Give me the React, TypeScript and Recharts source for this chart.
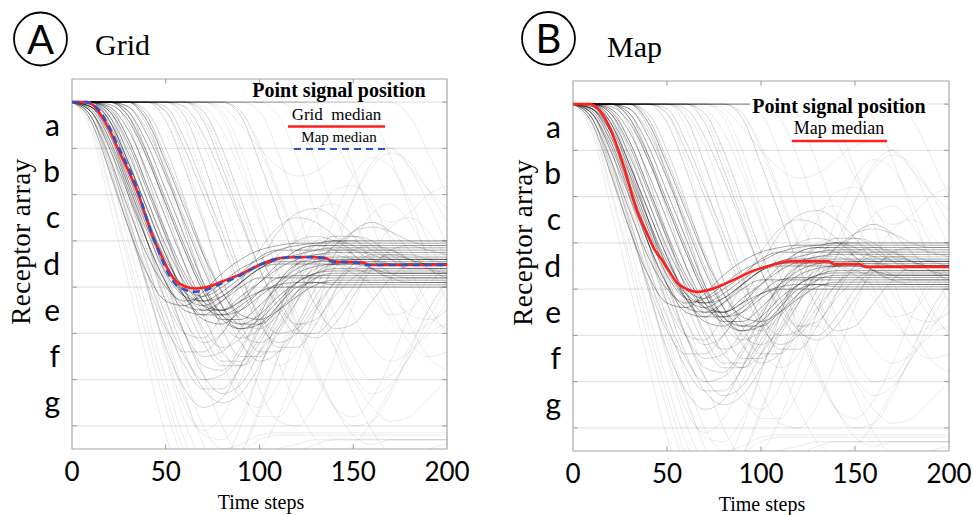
import { LineChart, Line, XAxis, YAxis, ReferenceLine, ReferenceArea } from 'recharts';

// shared time grid for the grey single-run traces
const timeSteps = [0, 10, 20, 30, 40, 50, 60, 70, 80, 90, 100, 110, 120, 130, 140, 150, 160, 170, 180, 190, 200];
const xTicks = [0, 50, 100, 150, 200];
const innerXTicks = [50, 100, 150];
const receptorLabels = ['a', 'b', 'c', 'd', 'e', 'f', 'g'];
const letterTicks = [0.5, 1.5, 2.5, 3.5, 4.5, 5.5, 6.5];
const boundaryLevels = [0, 1, 2, 3, 4, 5, 6, 7];

// early runs that settle between receptor c/d and d/e
const darkTraces: number[][] = [
  [0, 0.3, 1.2, 2.3, 3.3, 4.0, 4.3, 4.2, 3.9, 3.6, 3.4, 3.2, 3.1, 3.05, 3.0, 3.0, 3.0, 3.0, 3.0, 3.0, 3.0],
  [0, 0.1, 0.7, 1.7, 2.7, 3.6, 4.2, 4.4, 4.2, 3.9, 3.6, 3.4, 3.3, 3.2, 3.15, 3.15, 3.15, 3.15, 3.15, 3.15, 3.15],
  [0, 0.05, 0.4, 1.3, 2.3, 3.3, 4.1, 4.5, 4.5, 4.2, 3.9, 3.6, 3.4, 3.3, 3.25, 3.25, 3.25, 3.25, 3.25, 3.25, 3.25],
  [0, 0, 0.2, 0.9, 1.9, 2.9, 3.8, 4.4, 4.6, 4.5, 4.2, 3.9, 3.6, 3.45, 3.4, 3.4, 3.4, 3.4, 3.4, 3.4, 3.4],
  [0, 0, 0.1, 0.6, 1.5, 2.5, 3.5, 4.3, 4.7, 4.7, 4.4, 4.0, 3.7, 3.55, 3.5, 3.5, 3.5, 3.5, 3.5, 3.5, 3.5],
  [0, 0, 0, 0.3, 1.1, 2.1, 3.1, 4.0, 4.6, 4.8, 4.6, 4.2, 3.9, 3.7, 3.6, 3.6, 3.6, 3.6, 3.6, 3.6, 3.6],
  [0, 0, 0, 0.1, 0.7, 1.6, 2.6, 3.6, 4.4, 4.8, 4.8, 4.5, 4.1, 3.8, 3.7, 3.7, 3.7, 3.7, 3.7, 3.7, 3.7],
  [0, 0.2, 0.9, 1.9, 3.0, 3.9, 4.4, 4.5, 4.3, 4.0, 3.8, 3.8, 3.8, 3.8, 3.8, 3.8, 3.8, 3.8, 3.8, 3.8, 3.8],
  [0, 0.1, 0.5, 1.4, 2.5, 3.5, 4.2, 4.6, 4.6, 4.4, 4.1, 3.95, 3.9, 3.9, 3.9, 3.9, 3.9, 3.9, 3.9, 3.9, 3.9],
  [0, 0, 0.3, 1.1, 2.1, 3.1, 3.9, 4.4, 4.5, 4.3, 4.1, 4.0, 4.0, 4.0, 4.0, 4.0, 4.0, 4.0, 4.0, 4.0, 4.0],
  [0, 0.15, 0.8, 1.8, 2.8, 3.7, 4.2, 4.3, 4.1, 3.8, 3.55, 3.45, 3.45, 3.45, 3.45, 3.45, 3.45, 3.45, 3.45, 3.45, 3.45],
  [0, 0, 0.15, 0.8, 1.8, 2.8, 3.7, 4.3, 4.5, 4.3, 3.9, 3.5, 3.2, 3.1, 3.1, 3.1, 3.1, 3.1, 3.1, 3.1, 3.1],
  [0, 0.05, 0.6, 1.6, 2.6, 3.5, 4.1, 4.3, 4.2, 3.9, 3.6, 3.4, 3.35, 3.35, 3.35, 3.35, 3.35, 3.35, 3.35, 3.35, 3.35],
  [0, 0, 0.05, 0.4, 1.2, 2.2, 3.2, 4.1, 4.7, 4.9, 4.7, 4.3, 3.9, 3.7, 3.65, 3.65, 3.65, 3.65, 3.65, 3.65, 3.65],
  [0, 0, 0, 0, 0.4, 1.3, 2.3, 3.3, 4.1, 4.6, 4.7, 4.5, 4.2, 3.95, 3.85, 3.85, 3.85, 3.85, 3.85, 3.85, 3.85],
  [0, 0.4, 1.5, 2.7, 3.7, 4.3, 4.4, 4.1, 3.7, 3.4, 3.2, 3.1, 3.05, 3.05, 3.05, 3.05, 3.05, 3.05, 3.05, 3.05, 3.05],
  [0, 0.2, 1.0, 2.0, 3.0, 3.9, 4.5, 4.6, 4.3, 3.9, 3.6, 3.5, 3.5, 3.5, 3.5, 3.5, 3.5, 3.5, 3.5, 3.5, 3.5],
  [0, 0, 0.4, 1.3, 2.3, 3.3, 4.2, 4.7, 4.8, 4.5, 4.1, 3.8, 3.75, 3.75, 3.75, 3.75, 3.75, 3.75, 3.75, 3.75, 3.75],
  [0, 0, 0, 0.2, 0.9, 1.9, 2.9, 3.9, 4.6, 4.9, 4.8, 4.4, 4.0, 3.9, 3.95, 3.95, 3.95, 3.95, 3.95, 3.95, 3.95],
  [0, 0.1, 0.6, 1.5, 2.5, 3.4, 4.0, 4.2, 4.0, 3.7, 3.35, 3.2, 3.2, 3.2, 3.2, 3.2, 3.2, 3.2, 3.2, 3.2, 3.2],
];

// runs that overshoot deeper and swing back
const midTraces: number[][] = [
  [0, 0.3, 1.4, 2.7, 3.9, 4.9, 5.4, 5.4, 5.0, 4.4, 3.8, 3.3, 3.0, 2.9, 3.0, 3.2, 3.4, 3.5, 3.5, 3.5, 3.5],
  [0, 0, 0.4, 1.5, 2.7, 3.9, 5.0, 5.7, 5.8, 5.3, 4.6, 3.9, 3.4, 3.1, 3.1, 3.3, 3.6, 3.8, 3.8, 3.8, 3.8],
  [0, 0, 0, 0.5, 1.6, 2.8, 4.0, 5.0, 5.6, 5.6, 5.1, 4.4, 3.7, 3.2, 2.9, 2.9, 3.1, 3.4, 3.6, 3.6, 3.6],
  [0, 0, 0, 0, 0.5, 1.5, 2.7, 3.9, 4.9, 5.5, 5.5, 5.0, 4.3, 3.6, 3.1, 2.9, 3.0, 3.3, 3.5, 3.5, 3.5],
  [0, 0, 0, 0, 0, 0.4, 1.4, 2.6, 3.8, 4.8, 5.4, 5.4, 4.9, 4.2, 3.6, 3.2, 3.1, 3.2, 3.4, 3.5, 3.5],
  [0, 0.2, 1.0, 2.2, 3.5, 4.6, 5.5, 6.0, 5.9, 5.4, 4.6, 3.9, 3.5, 3.4, 3.5, 3.7, 3.9, 3.9, 3.9, 3.9, 3.9],
  [0, 0, 0.2, 1.2, 2.5, 3.8, 5.0, 5.9, 6.3, 6.1, 5.4, 4.6, 3.9, 3.4, 3.2, 3.2, 3.3, 3.3, 3.3, 3.3, 3.3],
  [0, 0, 0, 0.2, 1.1, 2.3, 3.5, 4.6, 5.4, 5.7, 5.4, 4.8, 4.1, 3.5, 3.1, 2.8, 2.7, 2.8, 3.0, 3.1, 3.1],
  [0, 0, 0, 0, 0, 0, 0.3, 1.3, 2.5, 3.7, 4.7, 5.3, 5.3, 4.8, 4.1, 3.5, 3.2, 3.2, 3.4, 3.6, 3.7],
  [0, 0.1, 0.8, 2.0, 3.2, 4.3, 5.0, 5.1, 4.6, 3.9, 3.2, 2.7, 2.5, 2.6, 2.9, 3.3, 3.6, 3.8, 3.9, 3.9, 3.9],
  [0, 0, 0.3, 1.3, 2.5, 3.7, 4.7, 5.2, 5.0, 4.3, 3.5, 2.8, 2.4, 2.3, 2.5, 2.9, 3.4, 3.7, 3.8, 3.8, 3.8],
  [0, 0, 0, 0, 0.2, 1.0, 2.1, 3.3, 4.4, 5.2, 5.6, 5.4, 4.8, 4.0, 3.3, 2.8, 2.6, 2.8, 3.2, 3.6, 3.8],
  [0, 0, 0, 0, 0, 0, 0, 0.2, 1.0, 2.1, 3.2, 4.2, 4.9, 5.1, 4.8, 4.2, 3.6, 3.2, 3.1, 3.2, 3.3],
  [0, 0.1, 0.6, 1.7, 3.0, 4.3, 5.4, 6.2, 6.5, 6.3, 5.7, 4.9, 4.2, 3.7, 3.5, 3.5, 3.6, 3.7, 3.7, 3.7, 3.7],
  [0, 0, 0, 0, 0, 0, 0, 0, 0, 0.3, 1.3, 2.4, 3.5, 4.4, 4.9, 4.8, 4.3, 3.8, 3.5, 3.4, 3.4],
  [0, 0.2, 1.2, 2.6, 4.0, 5.3, 6.2, 6.6, 6.4, 5.7, 4.8, 4.0, 3.5, 3.3, 3.3, 3.4, 3.4, 3.4, 3.4, 3.4, 3.4],
  [0, 0, 0, 0, 0, 0.2, 1.0, 2.0, 3.0, 4.0, 4.8, 5.2, 5.0, 4.5, 3.9, 3.5, 3.3, 3.3, 3.4, 3.5, 3.5],
  [0, 0, 0, 0.1, 0.6, 1.5, 2.5, 3.5, 4.4, 5.0, 5.2, 4.9, 4.3, 3.8, 3.5, 3.4, 3.4, 3.5, 3.6, 3.6, 3.6],
  [0, 0.3, 1.3, 2.5, 3.7, 4.8, 5.7, 6.2, 6.2, 5.7, 4.9, 4.1, 3.5, 3.1, 3.0, 3.1, 3.3, 3.4, 3.4, 3.4, 3.4],
  [0, 0, 0, 0, 0, 0, 0, 0.4, 1.4, 2.5, 3.6, 4.5, 5.0, 5.0, 4.6, 4.0, 3.5, 3.3, 3.3, 3.4, 3.5],
  [0, 0.1, 0.7, 1.8, 3.0, 4.1, 5.0, 5.5, 5.4, 4.9, 4.2, 3.6, 3.2, 3.1, 3.2, 3.4, 3.6, 3.7, 3.7, 3.7, 3.7],
  [0, 0, 0.2, 1.0, 2.1, 3.2, 4.3, 5.2, 5.7, 5.7, 5.2, 4.5, 3.8, 3.3, 3.0, 3.0, 3.2, 3.4, 3.5, 3.5, 3.5],
  [0, 0, 0, 0, 0.3, 1.2, 2.2, 3.2, 4.1, 4.7, 4.9, 4.6, 4.1, 3.7, 3.5, 3.45, 3.45, 3.5, 3.5, 3.5, 3.5],
  [0, 0, 0, 0.3, 1.2, 2.2, 3.2, 4.1, 4.8, 5.1, 4.9, 4.4, 3.9, 3.6, 3.5, 3.6, 3.7, 3.7, 3.7, 3.7, 3.7],
  [0, 0, 0, 0, 0, 0.1, 0.8, 1.8, 2.8, 3.8, 4.6, 5.0, 4.9, 4.4, 3.9, 3.6, 3.5, 3.5, 3.5, 3.5, 3.5],
  [0, 0, 0, 0, 0, 0, 0.1, 0.7, 1.6, 2.6, 3.6, 4.4, 4.8, 4.7, 4.2, 3.8, 3.6, 3.6, 3.6, 3.6, 3.6],
  [0, 0, 0.1, 0.8, 1.8, 2.9, 4.0, 4.9, 5.3, 5.1, 4.5, 3.9, 3.5, 3.4, 3.4, 3.4, 3.4, 3.4, 3.4, 3.4, 3.4],
];

// scattered runs: deep dives, late starts, bouncing arcs
const faintTraces: number[][] = [
  [0, 0.3, 1.5, 3.0, 4.5, 6.0, 7.3, 8.0, 7.8, 7.0, 5.8, 4.6, 3.6, 3.0, 2.9, 3.3, 4.0, 4.7, 5.0, 4.8, 4.5],
  [0, 0, 0.5, 1.9, 3.4, 4.9, 6.3, 7.4, 7.9, 7.6, 6.7, 5.5, 4.3, 3.4, 3.0, 3.1, 3.7, 4.5, 5.2, 5.5, 5.4],
  [0, 0, 0, 0.3, 1.6, 3.0, 4.5, 5.9, 7.0, 7.6, 7.5, 6.8, 5.7, 4.5, 3.5, 2.8, 2.6, 2.9, 3.6, 4.4, 5.0],
  [0, 0, 0, 0, 0, 0.2, 1.2, 2.5, 3.8, 5.1, 6.2, 6.9, 7.0, 6.5, 5.5, 4.4, 3.4, 2.7, 2.5, 2.8, 3.4],
  [0, 0, 0, 0, 0, 0, 0, 0, 0.3, 1.3, 2.5, 3.7, 4.9, 5.9, 6.6, 6.8, 6.4, 5.6, 4.6, 3.8, 3.4],
  [0, 0, 0, 0, 0, 0, 0, 0, 0, 0, 0.2, 1.1, 2.3, 3.5, 4.6, 5.5, 6.0, 5.9, 5.3, 4.5, 3.8],
  [0, 0.5, 1.9, 3.5, 5.1, 6.6, 7.8, 8.3, 8.2, 7.6, 6.6, 5.5, 4.8, 4.8, 5.3, 6.0, 6.6, 6.9, 6.8, 6.4, 6.0],
  [0, 0, 0.6, 2.0, 3.6, 5.1, 6.4, 7.2, 7.3, 6.8, 5.8, 4.6, 3.4, 2.5, 1.9, 1.8, 2.2, 3.0, 3.9, 4.6, 4.9],
  [0, 0, 0, 0, 0.4, 1.6, 3.0, 4.4, 5.6, 6.4, 6.6, 6.1, 5.0, 3.7, 2.5, 1.6, 1.2, 1.4, 2.1, 3.0, 3.8],
  [0, 0, 0, 0, 0, 0, 0.5, 1.7, 3.0, 4.3, 5.3, 5.7, 5.4, 4.5, 3.3, 2.1, 1.3, 1.0, 1.4, 2.2, 3.1],
  [0, 0.2, 1.1, 2.5, 4.0, 5.5, 6.9, 7.8, 8.2, 8.1, 7.8, 7.5, 7.4, 7.3, 7.3, 7.3, 7.3, 7.3, 7.3, 7.3, 7.3],
  [0, 0, 0.3, 1.5, 3.0, 4.5, 5.9, 7.0, 7.5, 7.4, 7.2, 7.15, 7.15, 7.15, 7.15, 7.15, 7.15, 7.15, 7.15, 7.15, 7.15],
  [0, 0, 0, 0, 0, 0, 0, 0, 0, 0, 0, 0.3, 1.2, 2.4, 3.6, 4.6, 5.3, 5.6, 5.4, 4.9, 4.3],
  [0, 0, 0, 0, 0, 0, 0, 0, 0, 0, 0, 0, 0, 0, 0.4, 1.4, 2.6, 3.8, 4.8, 5.5, 5.8],
  [0, 0, 0, 0, 0, 0, 0, 0, 0.1, 0.5, 1.0, 1.4, 1.6, 1.5, 1.2, 0.9, 0.8, 1.0, 1.4, 1.9, 2.3],
  [0, 0, 0, 0, 0, 0, 0, 0.3, 1.2, 2.3, 3.3, 4.0, 4.2, 3.8, 3.0, 2.1, 1.4, 1.1, 1.3, 1.9, 2.6],
  [0, 0, 0, 0, 0, 0, 0, 0, 0, 0.2, 1.0, 2.0, 3.1, 4.2, 5.3, 6.3, 7.1, 7.6, 7.7, 7.5, 7.4],
  [0, 0.1, 0.9, 2.4, 3.9, 5.4, 6.6, 7.1, 6.8, 6.0, 4.9, 3.8, 2.9, 2.3, 2.2, 2.6, 3.3, 4.1, 4.6, 4.7, 4.5],
  [0, 0.6, 2.2, 3.9, 5.6, 7.2, 8.3, 8.6, 8.2, 7.6, 7.3, 7.2, 7.2, 7.2, 7.2, 7.2, 7.2, 7.2, 7.2, 7.2, 7.2],
  [0, 0, 0, 0, 0, 0, 0.2, 0.9, 2.0, 3.2, 4.4, 5.6, 6.6, 7.3, 7.6, 7.4, 6.9, 6.2, 5.5, 5.0, 4.8],
  [0, 0, 0, 0, 0, 0, 0, 0, 0, 0, 0, 0, 0, 0, 0, 0, 0, 0, 0.3, 1.1, 2.0],
  [0, 0, 0, 0, 0, 0, 0, 0, 0, 0, 0, 0, 0.3, 1.3, 2.4, 3.4, 4.2, 4.6, 4.5, 4.0, 3.4],
  [0, 0, 0, 0, 0, 0, 0, 0, 0.2, 1.0, 2.2, 3.4, 4.6, 5.7, 6.6, 7.2, 7.4, 7.3, 7.3, 7.3, 7.3],
  [0, 0.4, 1.8, 3.3, 4.8, 6.3, 7.6, 8.5, 8.8, 8.7, 8.4, 8.0, 7.6, 7.4, 7.3, 7.3, 7.3, 7.3, 7.3, 7.3, 7.3],
  [0, 0, 0, 0, 0.3, 1.4, 2.7, 4.0, 5.2, 6.2, 6.8, 6.8, 6.2, 5.2, 4.1, 3.1, 2.4, 2.2, 2.6, 3.3, 4.0],
  [0, 0, 0, 0, 0, 0, 0, 0, 0, 0.2, 0.9, 1.9, 3.0, 4.1, 5.1, 5.9, 6.3, 6.1, 5.5, 4.7, 4.0],
  [0, 0, 0, 0, 0, 0, 0, 0, 0, 0, 0, 0, 0, 0.2, 0.8, 1.6, 2.3, 2.6, 2.4, 2.0, 1.8],
  [0, 0, 0, 0, 0, 0, 0, 0.1, 0.6, 1.5, 2.6, 3.7, 4.8, 5.8, 6.6, 7.0, 6.9, 6.3, 5.4, 4.5, 3.9],
  [0, 0, 0, 0, 0, 0, 0, 0, 0, 0, 0, 0, 0, 0, 0, 0, 0.3, 1.2, 2.3, 3.4, 4.3],
];

// medians (time step, receptor position)
const gridMedianSteps = [0, 8, 11, 15, 20, 25, 31, 35, 39, 43, 47, 51, 55, 60, 66, 72, 80, 90, 100, 108, 114, 125, 135, 139, 155, 159, 200];
const gridMedianValues = [0, 0, 0.05, 0.25, 0.6, 1.05, 1.57, 1.95, 2.43, 2.9, 3.25, 3.6, 3.85, 3.98, 4.03, 4.0, 3.88, 3.72, 3.52, 3.4, 3.36, 3.35, 3.37, 3.44, 3.47, 3.52, 3.52];

const mapMedianASteps = [0, 8, 11, 15, 20, 25, 31, 35, 39, 43, 47, 51, 55, 60, 66, 72, 80, 90, 100, 108, 114, 125, 135, 139, 152, 156, 200];
const mapMedianAValues = [0, 0, 0.04, 0.2, 0.55, 1.0, 1.5, 1.9, 2.4, 2.9, 3.3, 3.68, 3.93, 4.05, 4.1, 4.05, 3.92, 3.74, 3.52, 3.4, 3.36, 3.35, 3.37, 3.45, 3.47, 3.52, 3.52];

const mapMedianBSteps = [0, 9, 14, 20, 27, 34, 40, 43, 47, 51, 55, 59, 66, 72, 80, 88, 96, 104, 112, 116, 136, 139, 152, 156, 200];
const mapMedianBValues = [0, 0, 0.13, 0.55, 1.35, 2.3, 2.85, 3.12, 3.35, 3.6, 3.85, 3.97, 4.06, 4.02, 3.9, 3.75, 3.6, 3.5, 3.42, 3.4, 3.4, 3.46, 3.46, 3.52, 3.52];

type Pt = { t: number; v: number };
const toPoints = (steps: number[], values: number[]): Pt[] => steps.map((t, i) => ({ t, v: values[i] }));

const traceGroups = [
  { traces: faintTraces, opacity: 0.08 },
  { traces: midTraces, opacity: 0.17 },
  { traces: darkTraces, opacity: 0.34 },
];

type Median = { name: string; points: Pt[]; color: string; dash?: string };

const tickFont = { fontFamily: 'Lato, sans-serif', fontSize: 26, fill: '#000' };
const letterFont = { fontFamily: 'Lato, sans-serif', fontSize: 30, fill: '#000' };

function Panel({ width, margin, medians }: { width: number; margin: any; medians: Median[] }) {
  return (
    <LineChart width={width} height={515} margin={margin}>
      <XAxis
        type="number"
        dataKey="t"
        domain={[0, 200]}
        ticks={xTicks}
        interval={0}
        allowDataOverflow
        axisLine={false}
        tickLine={false}
        tickSize={0}
        tickMargin={14}
        height={40}
        tick={tickFont}
      />
      <YAxis
        type="number"
        dataKey="v"
        domain={[-0.5, 7.5]}
        reversed
        allowDataOverflow
        ticks={letterTicks}
        interval={0}
        tickFormatter={(v: number) => receptorLabels[Math.round(v - 0.5)]}
        axisLine={false}
        tickLine={false}
        tickSize={0}
        tickMargin={12}
        width={60}
        tick={letterFont}
      />
      {boundaryLevels.map(l => (
        <ReferenceLine key={'g' + l} y={l} stroke="#e4e4e4" strokeWidth={1.2} />
      ))}
      {boundaryLevels.slice(1).map(l => (
        <ReferenceLine key={'l' + l} segment={[{ x: 0, y: l }, { x: 2.5, y: l }]} stroke="#999" />
      ))}
      {boundaryLevels.map(l => (
        <ReferenceLine key={'r' + l} segment={[{ x: 197.5, y: l }, { x: 200, y: l }]} stroke="#999" />
      ))}
      {innerXTicks.map(x => (
        <ReferenceLine key={'t' + x} segment={[{ x, y: -0.5 }, { x, y: -0.4 }]} stroke="#999" />
      ))}
      {innerXTicks.map(x => (
        <ReferenceLine key={'b' + x} segment={[{ x, y: 7.5 }, { x, y: 7.4 }]} stroke="#999" />
      ))}
      <ReferenceArea x1={0} x2={200} y1={-0.5} y2={7.5} fill="none" stroke="#a6a6a6" strokeWidth={1.2} />
      {traceGroups.map((g, gi) =>
        g.traces.map((vals, i) => (
          <Line
            key={`tr-${gi}-${i}`}
            data={toPoints(timeSteps, vals)}
            dataKey="v"
            type="monotone"
            stroke="#000"
            strokeOpacity={g.opacity}
            strokeWidth={1}
            dot={false}
            activeDot={false}
            isAnimationActive={false}
          />
        ))
      )}
      {medians.map(m => (
        <Line
          key={m.name}
          data={m.points}
          dataKey="v"
          name={m.name}
          type="monotone"
          stroke={m.color}
          strokeWidth={2.6}
          strokeDasharray={m.dash}
          dot={false}
          activeDot={false}
          isAnimationActive={false}
        />
      ))}
    </LineChart>
  );
}

const serif = '"Liberation Serif", "Times New Roman", serif';
const RED = '#ff1f1f';
const BLUE = '#3050c8';

export default function App() {
  const gridMedian = toPoints(gridMedianSteps, gridMedianValues);
  const mapMedianA = toPoints(mapMedianASteps, mapMedianAValues);
  const mapMedianB = toPoints(mapMedianBSteps, mapMedianBValues);

  return (
    <div style={{ position: 'absolute', left: 0, top: 0, width: 973, height: 515, background: '#fff', overflow: 'hidden' }}>
      <div style={{ position: 'absolute', left: 0, top: 0 }}>
        <Panel
          width={480}
          margin={{ top: 79, right: 33, bottom: 26, left: 12 }}
          medians={[
            { name: 'Grid median', points: gridMedian, color: RED },
            { name: 'Map median', points: mapMedianA, color: BLUE, dash: '7 5' },
          ]}
        />
      </div>
      <div style={{ position: 'absolute', left: 490, top: 0 }}>
        <Panel
          width={483}
          margin={{ top: 81, right: 24, bottom: 24, left: 23 }}
          medians={[{ name: 'Map median', points: mapMedianB, color: RED }]}
        />
      </div>
      <svg width={973} height={515} style={{ position: 'absolute', left: 0, top: 0, pointerEvents: 'none' }}>
        {/* panel A */}
        <circle cx={40.5} cy={39} r={26.5} fill="none" stroke="#000" strokeWidth={1.8} />
        <text x={40.5} y={53.5} textAnchor="middle" fontFamily="Lato, sans-serif" fontSize={40}>A</text>
        <text x={95} y={55} fontFamily={serif} fontSize={30}>Grid</text>
        <text x={339} y={96.5} textAnchor="middle" fontFamily={serif} fontWeight="bold" fontSize={20}>Point signal position</text>
        <text x={336.5} y={120} textAnchor="middle" fontFamily={serif} fontSize={17} style={{ whiteSpace: 'pre' }}>Grid  median</text>
        <line x1={288} x2={385} y1={126.5} y2={126.5} stroke={RED} strokeWidth={2.5} />
        <text x={339} y={141.5} textAnchor="middle" fontFamily={serif} fontSize={15}>Map median</text>
        <line x1={294} x2={387} y1={149} y2={149} stroke={BLUE} strokeWidth={2} strokeDasharray="7 5" />
        <text x={30} y={241.5} textAnchor="middle" fontFamily={serif} fontSize={27} letterSpacing={0.5} transform="rotate(-90 30 241.5)">Receptor array</text>
        <text x={261} y={509} textAnchor="middle" fontFamily={serif} fontSize={20}>Time steps</text>

        {/* panel B */}
        <circle cx={548.5} cy={38.5} r={26.5} fill="none" stroke="#000" strokeWidth={1.8} />
        <text x={548.5} y={53} textAnchor="middle" fontFamily="Lato, sans-serif" fontSize={40}>B</text>
        <text x={607} y={57} fontFamily={serif} fontSize={30}>Map</text>
        <rect x={750} y={96} width={178} height={18} fill="#fff" />
        <text x={839} y={113} textAnchor="middle" fontFamily={serif} fontWeight="bold" fontSize={20}>Point signal position</text>
        <text x={839} y={133.5} textAnchor="middle" fontFamily={serif} fontSize={18}>Map median</text>
        <line x1={792} x2={887} y1={141} y2={141} stroke={RED} strokeWidth={2.5} />
        <text x={532} y={242.5} textAnchor="middle" fontFamily={serif} fontSize={27} letterSpacing={0.5} transform="rotate(-90 532 242.5)">Receptor array</text>
        <text x={762} y={510.5} textAnchor="middle" fontFamily={serif} fontSize={20}>Time steps</text>
      </svg>
    </div>
  );
}
